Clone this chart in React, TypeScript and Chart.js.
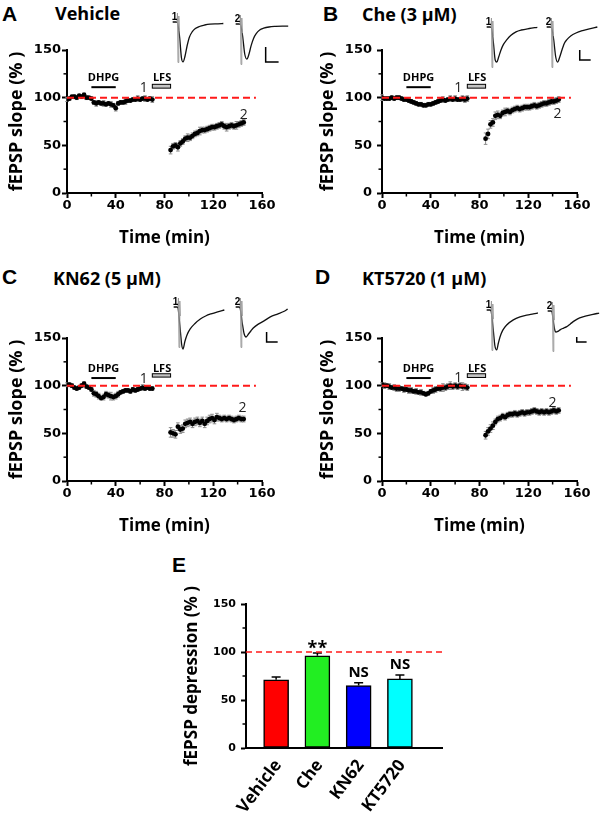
import React, { useEffect, useRef } from "react";
import { Chart, registerables } from "chart.js";
Chart.register(...registerables);

// ---------------- DATA ----------------
const TIME_PRE = [0, 2, 4, 6, 8, 10, 12, 14, 16, 18, 20, 22, 24, 26, 28, 30, 32, 34, 36, 38, 40, 42, 44, 46, 48, 50, 52, 54, 56, 58, 60, 62, 64, 66, 68, 70];
const TIME_POST = [85, 87, 89, 91, 93, 95, 97, 99, 101, 103, 105, 107, 109, 111, 113, 115, 117, 119, 121, 123, 125, 127, 129, 131, 133, 135, 137, 139, 141, 143, 145];

const A_PRE = [98, 99, 101, 101, 100, 102, 101, 103, 100, 100, 99, 95, 94, 95, 94, 94, 93, 94, 93, 92, 89, 94, 95, 95, 96, 97, 97, 98, 98, 99, 98, 99, 99, 98, 99, 98];
const A_PRE_ERR = [2, 2, 1, 2, 2, 1, 2, 2, 2, 1, 2, 2, 3, 2, 2, 3, 2, 2, 3, 2, 3, 2, 2, 2, 3, 2, 2, 2, 2, 3, 2, 2, 3, 2, 2, 3];
const A_POST = [45, 49, 50, 48, 52, 54, 57, 58, 58, 60, 62, 63, 65, 66, 66, 67, 68, 69, 69, 70, 71, 72, 70, 69, 70, 71, 70, 71, 72, 73, 74];
const A_POST_ERR = [4, 3, 3, 4, 3, 3, 3, 4, 3, 3, 3, 3, 4, 3, 3, 3, 3, 3, 3, 3, 3, 3, 3, 4, 3, 3, 3, 4, 3, 3, 3];

const B_PRE = [100, 99, 99, 99, 100, 99, 100, 100, 99, 98, 98, 97, 96, 95, 94, 93, 93, 92, 92, 93, 93, 94, 95, 96, 97, 98, 97, 98, 99, 98, 99, 98, 98, 99, 98, 99];
const B_PRE_ERR = [3, 2, 2, 2, 2, 2, 2, 2, 2, 2, 2, 2, 2, 2, 2, 2, 2, 2, 2, 2, 2, 2, 2, 2, 2, 3, 2, 2, 3, 2, 3, 2, 2, 3, 3, 3];
const B_POST = [57, 62, 72, 74, 81, 82, 81, 84, 85, 86, 85, 87, 88, 89, 88, 89, 90, 90, 90, 91, 92, 91, 92, 93, 94, 94, 95, 96, 96, 97, 98];
const B_POST_ERR = [6, 5, 4, 4, 4, 4, 3, 3, 4, 3, 3, 3, 3, 3, 3, 3, 3, 3, 3, 3, 3, 3, 3, 3, 3, 3, 3, 3, 3, 3, 3];

const C_PRE = [101, 101, 100, 98, 97, 98, 100, 102, 99, 98, 96, 92, 91, 89, 87, 88, 91, 90, 89, 88, 89, 91, 93, 94, 95, 95, 94, 96, 95, 96, 97, 98, 97, 98, 97, 97];
const C_PRE_ERR = [2, 2, 2, 2, 2, 2, 2, 2, 2, 2, 2, 3, 3, 3, 2, 3, 3, 3, 4, 3, 3, 3, 2, 2, 2, 2, 2, 2, 2, 2, 2, 3, 2, 2, 2, 2];
const C_POST = [51, 50, 49, 57, 54, 55, 60, 61, 62, 60, 62, 63, 61, 63, 60, 63, 65, 66, 64, 67, 66, 65, 66, 65, 66, 65, 64, 65, 66, 65, 65];
const C_POST_ERR = [5, 4, 4, 4, 4, 4, 4, 4, 4, 4, 4, 4, 4, 4, 4, 4, 4, 4, 4, 4, 3, 3, 3, 3, 3, 3, 3, 3, 3, 3, 3];

const D_PRE = [101, 100, 100, 99, 98, 98, 97, 97, 97, 96, 96, 95, 95, 94, 94, 93, 93, 92, 91, 92, 94, 95, 96, 97, 97, 98, 98, 99, 100, 99, 100, 99, 100, 99, 99, 98];
const D_PRE_ERR = [2, 3, 2, 3, 2, 3, 3, 3, 2, 3, 2, 3, 3, 2, 3, 2, 3, 2, 2, 2, 2, 3, 3, 2, 3, 4, 3, 3, 4, 3, 3, 3, 3, 4, 3, 3];
const D_POST = [48, 52, 55, 58, 62, 65, 66, 68, 67, 69, 70, 70, 71, 70, 71, 72, 71, 72, 72, 73, 74, 73, 72, 73, 72, 73, 72, 73, 74, 73, 74];
const D_POST_ERR = [4, 4, 4, 4, 3, 3, 3, 3, 3, 3, 3, 3, 3, 3, 3, 3, 3, 3, 3, 3, 3, 3, 3, 3, 3, 3, 3, 3, 3, 3, 3];

const DHPG_PERIOD = [20, 40];
const LFS_PERIOD = [70, 85];
const BASELINE_LEVEL = 100;
const Y_TICKS_SLOPE = [0, 50, 100, 150];
const X_TICKS_TIME = [0, 40, 80, 120, 160];

// inset traces: [time ms, mV]
const A1_TRACE = [[0, 0], [1.7, 0], [2.6, -0.5], [3.3, -1.2], [3.9, -1.33], [4.6, -1.15], [5.4, -0.8], [6.3, -0.5], [7.3, -0.33], [8.5, -0.22], [10, -0.15], [12, -0.1], [14, -0.07], [17, -0.06], [19, -0.05]];
const A2_TRACE = [[0, 0], [1.7, 0], [2.6, -0.4], [3.4, -1.0], [4.2, -1.17], [5, -1.0], [5.8, -0.72], [6.7, -0.48], [7.7, -0.32], [9, -0.2], [10.5, -0.14], [12.5, -0.1], [15, -0.08], [17.5, -0.07], [19.7, -0.07]];
const B1_TRACE = [[0, 0], [1.7, 0], [2.5, -0.5], [3.2, -1.1], [3.8, -1.17], [4.5, -1.0], [5.3, -0.78], [6.3, -0.58], [7.5, -0.43], [9, -0.28], [11, -0.16], [13, -0.1], [16, -0.05], [19, -0.01]];
const B2_TRACE = [[0, 0], [1.7, 0], [2.6, -0.4], [3.4, -1.0], [4.1, -1.17], [4.9, -1.0], [5.8, -0.75], [6.6, -0.55], [7.5, -0.43], [9, -0.3], [11, -0.2], [13.5, -0.12], [16, -0.06], [19, 0]];
const C1_TRACE = [[0, 0], [1.5, 0], [2.3, -0.6], [3, -1.25], [3.5, -1.4], [4.2, -1.15], [5, -0.93], [6.2, -0.73], [8, -0.55], [10, -0.4], [12, -0.3], [14, -0.23], [16.5, -0.16], [19, -0.1]];
const C2_TRACE = [[0, 0], [1.5, 0], [2.4, -0.5], [3.2, -0.9], [3.9, -1.0], [4.8, -0.9], [5.7, -0.8], [6.6, -0.7], [8.5, -0.57], [10.5, -0.47], [13, -0.33], [15.9, -0.23], [18, -0.15], [19.5, -0.07]];
const D1_TRACE = [[0, 0], [1.5, 0], [2.4, -0.6], [3.1, -1.2], [3.75, -1.33], [4.4, -1.1], [5, -0.9], [6, -0.68], [7.5, -0.5], [10, -0.33], [12.5, -0.23], [15, -0.17], [17.5, -0.13], [19.2, -0.1]];
const D2_TRACE = [[0, 0], [1.5, 0], [2.2, -0.4], [2.7, -0.65], [3.1, -0.7], [3.8, -0.68], [4.8, -0.62], [6, -0.57], [7, -0.53], [8.5, -0.43], [10, -0.33], [12, -0.23], [14.5, -0.16], [17, -0.11], [19.3, -0.07]];
const ARTIFACT = [[1.6, 0], [1.8, 0.3], [2.0, -1.35], [2.3, 0.2], [2.5, -0.3]];
const A_SCALEBAR = [[11.25, -0.77], [11.25, -1.27], [16.1, -1.27]];
const B_SCALEBAR = [[12.4, -0.77], [12.4, -1.1], [16.5, -1.1]];
const C_SCALEBAR = [[11.6, -0.83], [11.6, -1.17], [15.75, -1.17]];
const D_SCALEBAR = [[10.9, -0.87], [10.9, -1.03], [14.6, -1.03]];

const E_LABELS = ["Vehicle", "Che", "KN62", "KT5720"];
const E_VALUES = [71, 96, 65, 72];
const E_ERR = [3, 3, 3, 4];
const E_SIG = ["", "**", "NS", "NS"];
const E_COLORS = ["#ff0000", "#22ee22", "#0000ff", "#00ffff"];

// ---------------- STYLE ----------------
const TICK_FONT = "'DejaVu Sans', sans-serif";
const TEXT_FONT = "'Open Sans', sans-serif";

type SlopePanel = {
  pre: number[]; preErr: number[]; post: number[]; postErr: number[];
  left: number; top: number; w: number; h: number; axisW: number; yTitlePad: number; yTickPad: number;
  bar: number; lfsLo: number; lfsHi: number; textY: number; one: number[]; two: number[];
};

const PANELS: SlopePanel[] = [
  { pre: A_PRE, preErr: A_PRE_ERR, post: A_POST, postErr: A_POST_ERR, left: 0, top: 30, w: 285, h: 220, axisW: 67, yTitlePad: 6, yTickPad: 1, bar: 111, lfsLo: 110, lfsHi: 114, textY: 117.5, one: [63, 106], two: [145, 77.5] },
  { pre: B_PRE, preErr: B_PRE_ERR, post: B_POST, postErr: B_POST_ERR, left: 300, top: 30, w: 300, h: 220, axisW: 82, yTitlePad: 17, yTickPad: 5, bar: 111, lfsLo: 110, lfsHi: 114, textY: 117.5, one: [62.5, 106], two: [144, 79] },
  { pre: C_PRE, preErr: C_PRE_ERR, post: C_POST, postErr: C_POST_ERR, left: 0, top: 318, w: 285, h: 220, axisW: 67, yTitlePad: 6, yTickPad: 1, bar: 108, lfsLo: 109, lfsHi: 112.5, textY: 114.6, one: [63, 103], two: [144, 72] },
  { pre: D_PRE, preErr: D_PRE_ERR, post: D_POST, postErr: D_POST_ERR, left: 300, top: 318, w: 300, h: 220, axisW: 82, yTitlePad: 17, yTickPad: 5, bar: 108, lfsLo: 108.6, lfsHi: 112.5, textY: 114.6, one: [62.5, 104], two: [140, 78] },
];

function SlopeChart({ p }: { p: SlopePanel }) {
  const ref = useRef<HTMLCanvasElement>(null);
  useEffect(() => {
    const decor = {
      id: "slopeDecor",
      beforeDatasetsDraw(chart: any) {
        const ctx = chart.ctx;
        const ys = chart.scales.y;
        chart.data.datasets.forEach((ds: any, i: number) => {
          const errs = ds.errors;
          if (!errs) return;
          const meta = chart.getDatasetMeta(i);
          ctx.save();
          ctx.strokeStyle = "#8c8c8c";
          ctx.lineWidth = 1;
          meta.data.forEach((el: any, j: number) => {
            const v = ds.data[j].y;
            const e = errs[j];
            const y1 = ys.getPixelForValue(v + e);
            const y2 = ys.getPixelForValue(v - e);
            ctx.beginPath();
            ctx.moveTo(el.x, y1); ctx.lineTo(el.x, y2);
            ctx.moveTo(el.x - 1.8, y1); ctx.lineTo(el.x + 1.8, y1);
            ctx.moveTo(el.x - 1.8, y2); ctx.lineTo(el.x + 1.8, y2);
            ctx.stroke();
          });
          ctx.restore();
        });
      },
      afterDatasetsDraw(chart: any) {
        const ctx = chart.ctx;
        const xs = chart.scales.x;
        const ys = chart.scales.y;
        const X = (t: number) => xs.getPixelForValue(t);
        const Y = (v: number) => ys.getPixelForValue(v);
        ctx.save();
        ctx.strokeStyle = "#ff1a1a";
        ctx.lineWidth = 2;
        ctx.setLineDash([7, 4]);
        ctx.beginPath();
        ctx.moveTo(X(0), Y(BASELINE_LEVEL));
        ctx.lineTo(X(155), Y(BASELINE_LEVEL));
        ctx.stroke();
        ctx.setLineDash([]);
        ctx.strokeStyle = "#000";
        ctx.lineWidth = 2;
        ctx.beginPath();
        ctx.moveTo(X(DHPG_PERIOD[0]), Y(p.bar));
        ctx.lineTo(X(DHPG_PERIOD[1]), Y(p.bar));
        ctx.stroke();
        const lx = X(LFS_PERIOD[0]);
        const lw = X(LFS_PERIOD[1]) - lx;
        const ly = Y(p.lfsHi);
        const lh = Y(p.lfsLo) - ly;
        ctx.fillStyle = "#c4c4c4";
        ctx.fillRect(lx, ly, lw, lh);
        ctx.lineWidth = 1;
        ctx.strokeRect(lx, ly, lw, lh);
        ctx.fillStyle = "#000";
        ctx.textAlign = "center";
        ctx.textBaseline = "alphabetic";
        ctx.font = `bold 11px ${TEXT_FONT}`;
        ctx.fillText("DHPG", X((DHPG_PERIOD[0] + DHPG_PERIOD[1]) / 2), Y(p.textY));
        ctx.fillText("LFS", X((LFS_PERIOD[0] + LFS_PERIOD[1]) / 2 + 0.5), Y(p.textY));
        ctx.font = `14px ${TEXT_FONT}`;
        ctx.fillStyle = "#222";
        ctx.fillText("1", X(p.one[0]), Y(p.one[1]));
        ctx.fillText("2", X(p.two[0]), Y(p.two[1]));
        ctx.restore();
      },
      afterDraw(chart: any) {
        const ctx = chart.ctx;
        const xs = chart.scales.x;
        const ys = chart.scales.y;
        const ca = chart.chartArea;
        ctx.save();
        ctx.strokeStyle = "#000";
        ctx.lineWidth = 1.5;
        [25, 75, 125].forEach((v) => {
          const y = ys.getPixelForValue(v);
          ctx.beginPath(); ctx.moveTo(ca.left, y); ctx.lineTo(ca.left - 3.5, y); ctx.stroke();
        });
        [20, 60, 100, 140].forEach((t) => {
          const x = xs.getPixelForValue(t);
          ctx.beginPath(); ctx.moveTo(x, ca.bottom); ctx.lineTo(x, ca.bottom + 3.5); ctx.stroke();
        });
        ctx.restore();
      },
    };
    const cfg: any = {
      type: "scatter",
      data: {
        datasets: [
          { data: TIME_PRE.map((t, i) => ({ x: t, y: p.pre[i] })), errors: p.preErr, pointRadius: 2.4, pointBackgroundColor: "#000", pointBorderColor: "#000", pointBorderWidth: 0, showLine: false },
          { data: TIME_POST.map((t, i) => ({ x: t, y: p.post[i] })), errors: p.postErr, pointRadius: 2.4, pointBackgroundColor: "#000", pointBorderColor: "#000", pointBorderWidth: 0, showLine: false },
        ],
      },
      options: {
        responsive: false,
        animation: false,
        devicePixelRatio: 1,
        events: [],
        layout: { padding: { left: 0, top: 20, right: p.w - (p.axisW + 195), bottom: 0 } },
        plugins: { legend: { display: false }, tooltip: { enabled: false } },
        scales: {
          x: {
            type: "linear", min: 0, max: 160,
            afterBuildTicks: (s: any) => { s.ticks = X_TICKS_TIME.map((v) => ({ value: v })); },
            afterFit: (s: any) => { s.height = 57; },
            ticks: { font: { family: TICK_FONT, weight: "bold", size: 13 }, color: "#000", padding: 0, maxRotation: 0, autoSkip: false },
            grid: { display: true, drawOnChartArea: false, tickLength: 5, tickColor: "#000", tickWidth: 2 },
            border: { color: "#000", width: 2 },
            title: { display: true, text: "Time (min)", color: "#000", font: { family: TEXT_FONT, weight: "bold", size: 17 }, padding: { top: 0, bottom: 2 } },
          },
          y: {
            type: "linear", min: 0, max: 150,
            afterBuildTicks: (s: any) => { s.ticks = Y_TICKS_SLOPE.map((v) => ({ value: v })); },
            afterFit: (s: any) => { s.width = p.axisW; },
            ticks: { font: { family: TICK_FONT, weight: "bold", size: 13 }, color: "#000", padding: p.yTickPad },
            grid: { display: true, drawOnChartArea: false, tickLength: 5, tickColor: "#000", tickWidth: 2 },
            border: { color: "#000", width: 2 },
            title: { display: true, text: "fEPSP slope (% )", color: "#000", font: { family: TEXT_FONT, weight: "bold", size: 18 }, padding: { top: p.yTitlePad, bottom: 0 } },
          },
        },
      },
      plugins: [decor],
    };
    const chart = new Chart(ref.current as HTMLCanvasElement, cfg);
    return () => chart.destroy();
  }, [p]);
  return <canvas ref={ref} width={p.w} height={p.h} style={{ position: "absolute", left: p.left, top: p.top, width: p.w, height: p.h }} />;
}

type TraceSpec = { trace: number[][]; label: string; baseX: number; baseY: number; scaleBar?: number[][] };

const TRACES: TraceSpec[] = [
  { trace: A1_TRACE, label: "1", baseX: 173, baseY: 22 },
  { trace: A2_TRACE, label: "2", baseX: 236, baseY: 24, scaleBar: A_SCALEBAR },
  { trace: B1_TRACE, label: "1", baseX: 487, baseY: 27 },
  { trace: B2_TRACE, label: "2", baseX: 547, baseY: 27, scaleBar: B_SCALEBAR },
  { trace: C1_TRACE, label: "1", baseX: 174, baseY: 307 },
  { trace: C2_TRACE, label: "2", baseX: 236, baseY: 307, scaleBar: C_SCALEBAR },
  { trace: D1_TRACE, label: "1", baseX: 487, baseY: 310 },
  { trace: D2_TRACE, label: "2", baseX: 548, baseY: 311, scaleBar: D_SCALEBAR },
];

const TW = 56; // px, x range -1..20 ms
const TH = 60; // px, y range -1.5..0.5 mV

function TraceChart({ s }: { s: TraceSpec }) {
  const ref = useRef<HTMLCanvasElement>(null);
  useEffect(() => {
    const lab = {
      id: "traceLabel",
      afterDraw(chart: any) {
        const ctx = chart.ctx;
        const x = chart.scales.x.getPixelForValue(0.7);
        const y = chart.scales.y.getPixelForValue(0) - 2.5;
        ctx.save();
        ctx.fillStyle = "#000";
        ctx.font = "bold 10px 'Liberation Sans', sans-serif";
        ctx.textAlign = "center";
        ctx.textBaseline = "alphabetic";
        ctx.fillText(s.label, x, y);
        ctx.restore();
      },
    };
    const ds: any[] = [
      { data: ARTIFACT.map(([x, y]) => ({ x, y })), borderColor: "#9a9a9a", borderWidth: 1, pointRadius: 0, tension: 0 },
      { data: s.trace.map(([x, y]) => ({ x, y })), borderColor: "#111", borderWidth: 1.3, pointRadius: 0, cubicInterpolationMode: "monotone" },
    ];
    if (s.scaleBar) ds.push({ data: s.scaleBar.map(([x, y]) => ({ x, y })), borderColor: "#000", borderWidth: 1.5, pointRadius: 0, tension: 0 });
    const chart = new Chart(ref.current as HTMLCanvasElement, {
      type: "line",
      data: { datasets: ds },
      options: {
        responsive: false,
        animation: false,
        devicePixelRatio: 1,
        events: [],
        layout: { padding: 0 },
        plugins: { legend: { display: false }, tooltip: { enabled: false } },
        scales: {
          x: { type: "linear", min: -1, max: 20, display: false },
          y: { type: "linear", min: -1.5, max: 0.5, display: false },
        },
      } as any,
      plugins: [lab],
    });
    return () => chart.destroy();
  }, [s]);
  const left = s.baseX - TW / 21;
  const top = s.baseY - TH * 0.25;
  return <canvas ref={ref} width={TW} height={TH} style={{ position: "absolute", left, top, width: TW, height: TH }} />;
}

function BarChartE() {
  const ref = useRef<HTMLCanvasElement>(null);
  useEffect(() => {
    const decor = {
      id: "barDecor",
      afterDatasetsDraw(chart: any) {
        const ctx = chart.ctx;
        const ys = chart.scales.y;
        const meta = chart.getDatasetMeta(0);
        const ca = chart.chartArea;
        ctx.save();
        ctx.strokeStyle = "#000";
        ctx.lineWidth = 1.5;
        meta.data.forEach((el: any, i: number) => {
          const yTop = ys.getPixelForValue(E_VALUES[i]);
          const yE = ys.getPixelForValue(E_VALUES[i] + E_ERR[i]);
          ctx.beginPath();
          ctx.moveTo(el.x, yTop); ctx.lineTo(el.x, yE);
          ctx.moveTo(el.x - 4.5, yE); ctx.lineTo(el.x + 4.5, yE);
          ctx.stroke();
          if (E_SIG[i]) {
            ctx.fillStyle = "#000";
            ctx.textAlign = "center";
            ctx.textBaseline = "alphabetic";
            if (E_SIG[i] === "**") {
              ctx.font = `bold 18px ${TEXT_FONT}`;
              ctx.fillText(E_SIG[i], el.x, yE + 1);
            } else {
              ctx.font = `bold 15px ${TEXT_FONT}`;
              ctx.fillText(E_SIG[i], el.x, yE - 6);
            }
          }
        });
        ctx.strokeStyle = "#ff1a1a";
        ctx.lineWidth = 1.5;
        ctx.setLineDash([6, 4]);
        ctx.beginPath();
        ctx.moveTo(ca.left, ys.getPixelForValue(BASELINE_LEVEL));
        ctx.lineTo(ca.right, ys.getPixelForValue(BASELINE_LEVEL));
        ctx.stroke();
        ctx.setLineDash([]);
        ctx.restore();
      },
      afterDraw(chart: any) {
        const ctx = chart.ctx;
        const ys = chart.scales.y;
        const xs = chart.scales.x;
        const ca = chart.chartArea;
        ctx.save();
        ctx.strokeStyle = "#000";
        ctx.lineWidth = 1.5;
        [25, 75, 125].forEach((v) => {
          const y = ys.getPixelForValue(v);
          ctx.beginPath(); ctx.moveTo(ca.left, y); ctx.lineTo(ca.left - 3.5, y); ctx.stroke();
        });
        // rotated category labels
        ctx.fillStyle = "#000";
        ctx.font = `bold 17px ${TEXT_FONT}`;
        ctx.textAlign = "right";
        ctx.textBaseline = "middle";
        E_LABELS.forEach((lab, i) => {
          const x = xs.getPixelForValue(i) + 2;
          const y = ca.bottom + 14;
          ctx.save();
          ctx.translate(x, y);
          ctx.rotate((-53 * Math.PI) / 180);
          ctx.fillText(lab, 0, 0);
          ctx.restore();
        });
        ctx.restore();
      },
    };
    const chart = new Chart(ref.current as HTMLCanvasElement, {
      type: "bar",
      data: {
        datasets: [
          {
            data: E_VALUES.map((v, i) => ({ x: i, y: v })) as any,
            backgroundColor: E_COLORS,
            borderColor: "#000",
            borderWidth: 1.5,
            borderSkipped: false,
            barThickness: 25,
          } as any,
        ],
      },
      options: {
        responsive: false,
        animation: false,
        devicePixelRatio: 1,
        events: [],
        layout: { padding: { left: 0, top: 44, right: 18, bottom: 0 } },
        plugins: { legend: { display: false }, tooltip: { enabled: false } },
        scales: {
          x: {
            type: "linear", min: -0.73, max: 4.02, offset: false,
            afterBuildTicks: (s: any) => { s.ticks = E_LABELS.map((_, i) => ({ value: i })); },
            afterFit: (s: any) => { s.height = 67; },
            ticks: { display: false },
            grid: { display: false },
            border: { color: "#000", width: 2 },
          },
          y: {
            type: "linear", min: 0, max: 150,
            afterBuildTicks: (s: any) => { s.ticks = Y_TICKS_SLOPE.map((v) => ({ value: v })); },
            afterFit: (s: any) => { s.width = 96; },
            ticks: { font: { family: TICK_FONT, weight: "bold", size: 11 }, color: "#000", padding: 5 },
            grid: { display: true, drawOnChartArea: false, tickLength: 5, tickColor: "#000", tickWidth: 2 },
            border: { color: "#000", width: 2 },
            title: { display: true, text: "fEPSP depression (% )", color: "#000", font: { family: TEXT_FONT, weight: "bold", size: 17 }, padding: { top: 32, bottom: 0 } },
          },
        },
      } as any,
      plugins: [decor],
    });
    return () => chart.destroy();
  }, []);
  return <canvas ref={ref} width={310} height={255} style={{ position: "absolute", left: 150, top: 560, width: 310, height: 255 }} />;
}

type TextSpec = { t: string; x: number; base: number; size: number; fam: "LS" | "OS" };
const TEXTS: TextSpec[] = [
  { t: "A", x: 2, base: 21, size: 21, fam: "LS" },
  { t: "Vehicle", x: 55, base: 19.5, size: 18, fam: "OS" },
  { t: "B", x: 323, base: 20.5, size: 21, fam: "LS" },
  { t: "Che (3 μM)", x: 362, base: 20.5, size: 18, fam: "OS" },
  { t: "C", x: 2, base: 284, size: 21, fam: "LS" },
  { t: "KN62 (5 μM)", x: 53, base: 284.5, size: 18, fam: "OS" },
  { t: "D", x: 315, base: 284, size: 21, fam: "LS" },
  { t: "KT5720 (1 μM)", x: 362, base: 284.5, size: 18, fam: "OS" },
  { t: "E", x: 172, base: 572, size: 21, fam: "LS" },
];

export default function App() {
  return (
    <div style={{ position: "absolute", left: 0, top: 0, width: 600, height: 815, background: "#fff", overflow: "hidden" }}>
      {TEXTS.map((s, i) => {
        const k = s.fam === "LS" ? 0.8465 : 0.888;
        return (
          <div
            key={i}
            style={{
              position: "absolute",
              left: s.x,
              top: s.base - s.size * k,
              fontFamily: s.fam === "LS" ? "'Liberation Sans', sans-serif" : TEXT_FONT,
              fontWeight: "bold",
              fontSize: s.size,
              lineHeight: `${s.size}px`,
              whiteSpace: "nowrap",
              color: "#000",
            }}
          >
            {s.t}
          </div>
        );
      })}
      {PANELS.map((p, i) => (
        <SlopeChart key={i} p={p} />
      ))}
      {TRACES.map((s, i) => (
        <TraceChart key={i} s={s} />
      ))}
      <BarChartE />
    </div>
  );
}
